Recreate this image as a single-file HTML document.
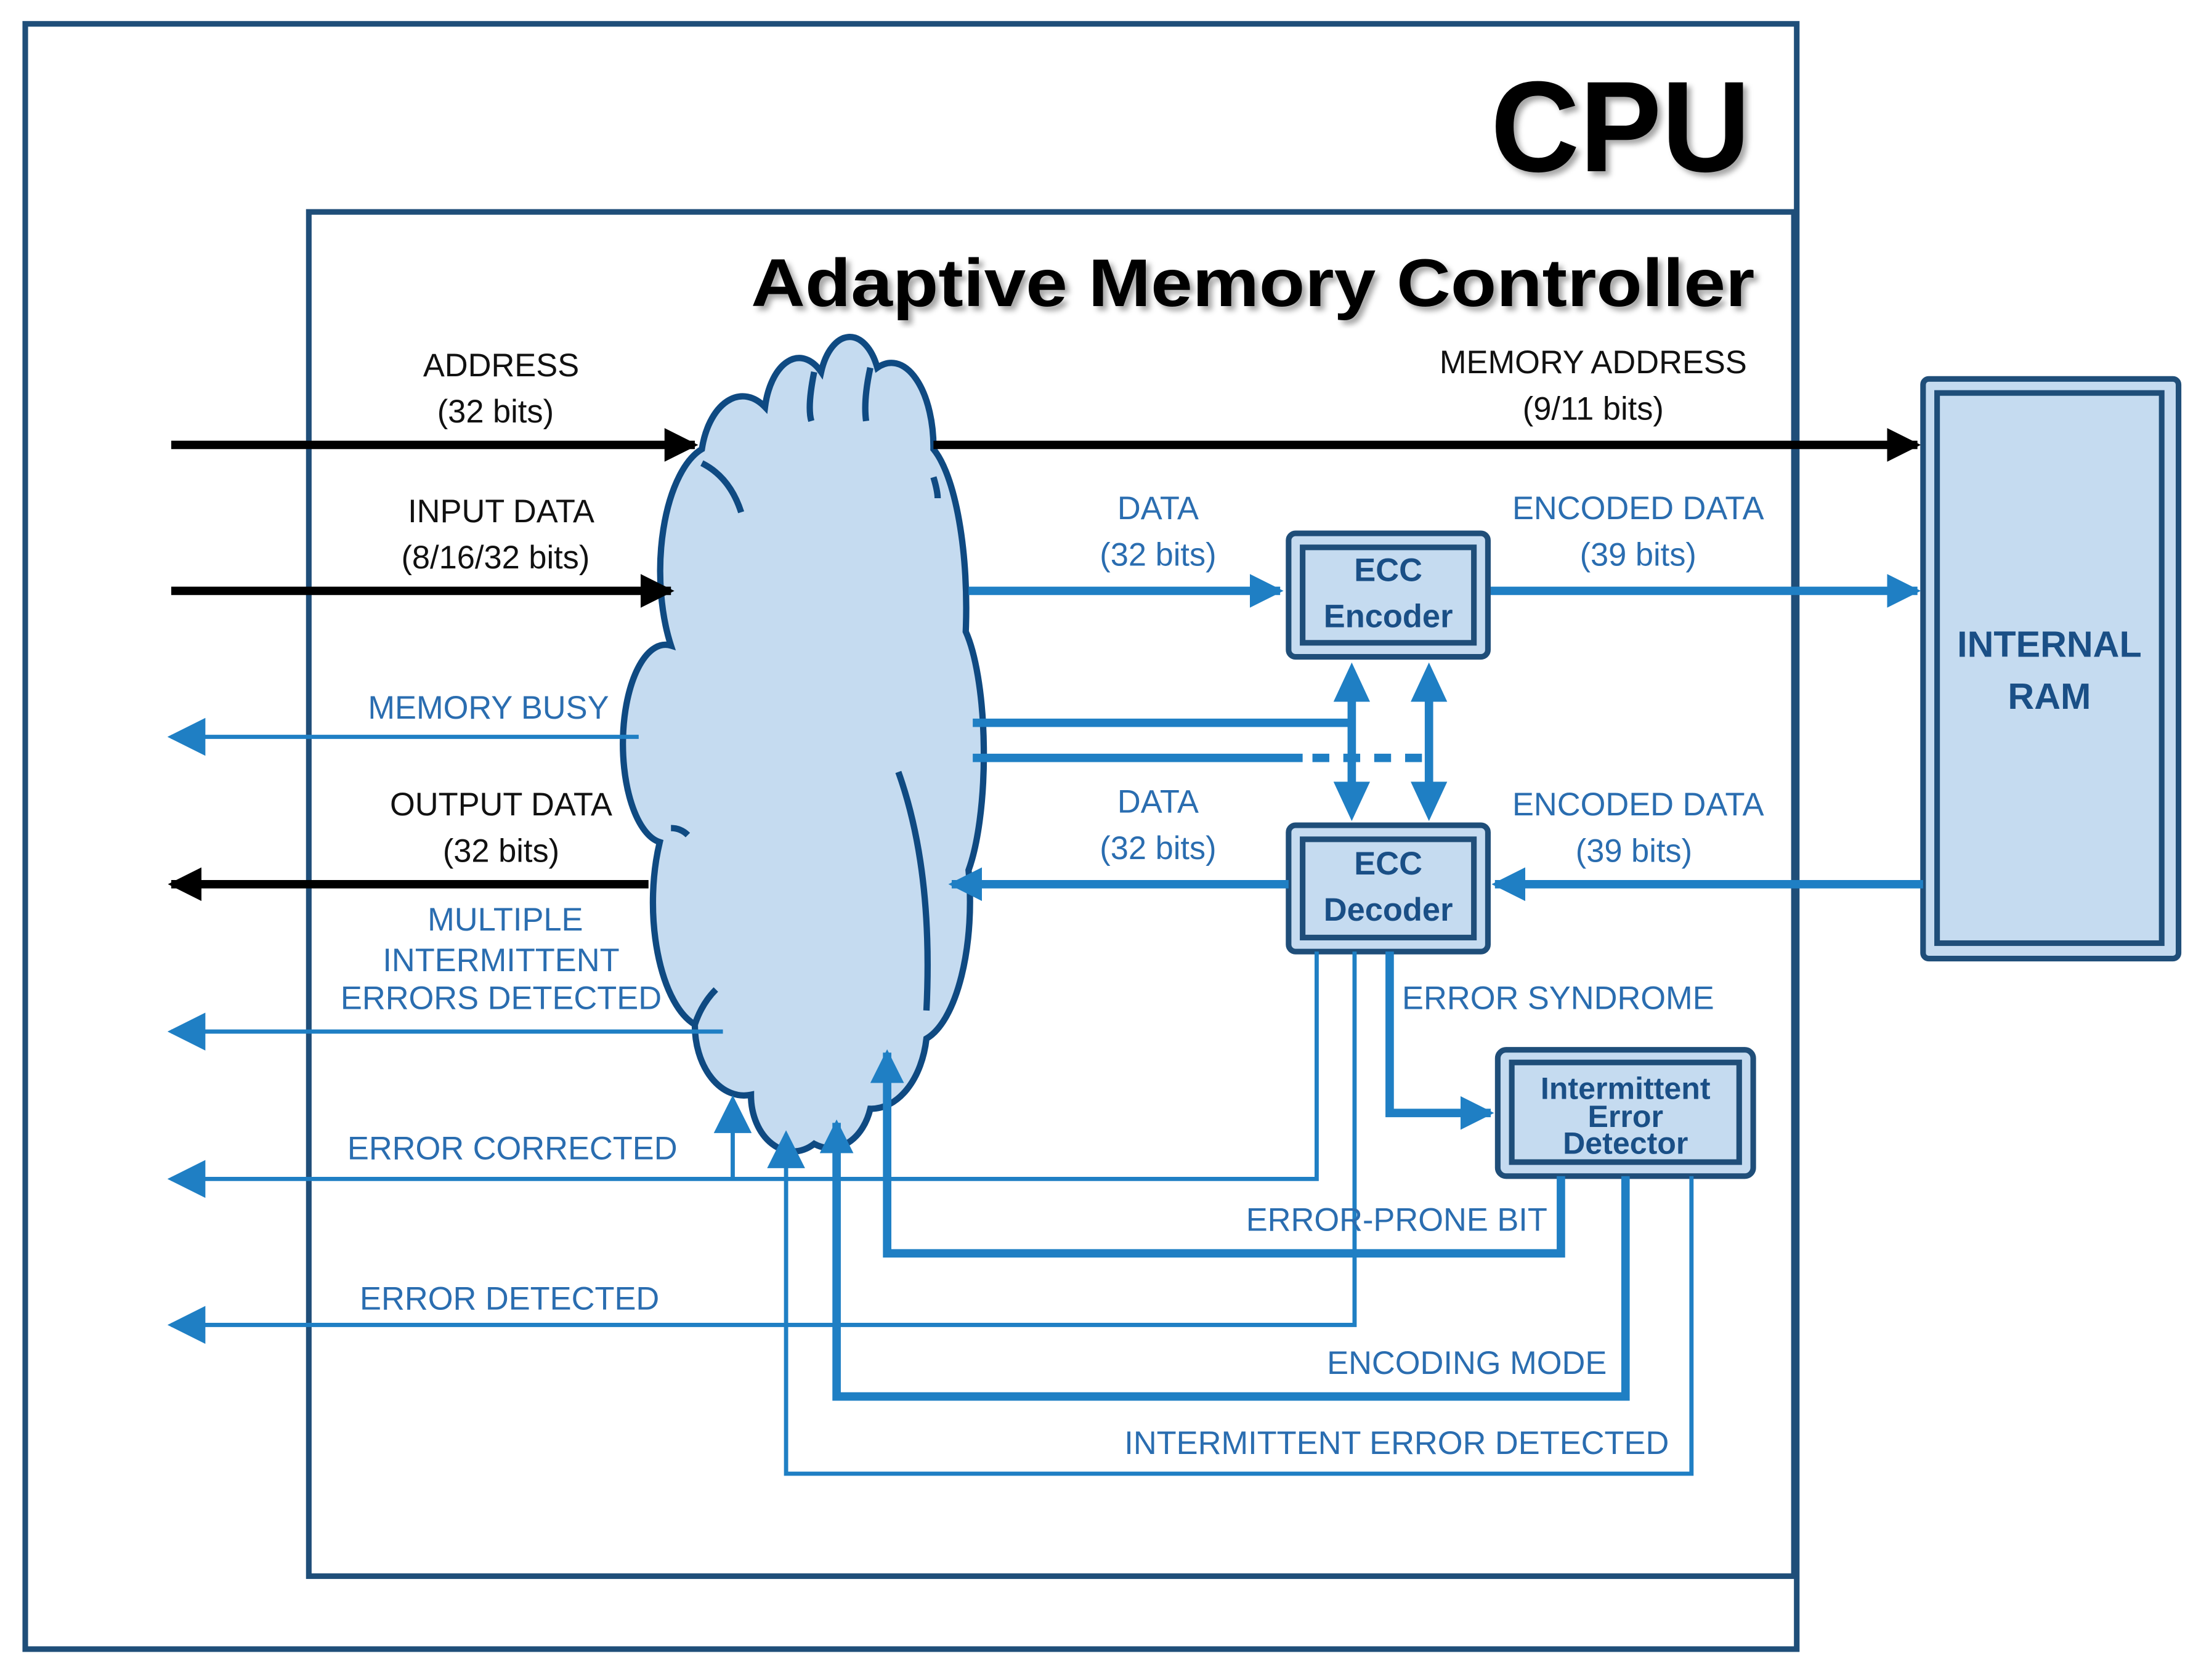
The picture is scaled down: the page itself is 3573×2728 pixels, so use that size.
<!DOCTYPE html>
<html><head><meta charset="utf-8"><style>
html,body{margin:0;padding:0;background:#fff;}
svg{display:block;}
text{font-family:"Liberation Sans",sans-serif;}
.b{fill:#2a6db0;font-size:23px;text-anchor:middle;}
.k{fill:#111;font-size:23px;text-anchor:middle;}
.bx{fill:#1a4f86;font-weight:bold;text-anchor:middle;}
</style></head><body>
<svg width="3573" height="2728" viewBox="0 0 1568 1197" preserveAspectRatio="none" xmlns="http://www.w3.org/2000/svg">
<defs>
<marker id="ak" viewBox="0 0 10 10" refX="9" refY="5" markerWidth="4" markerHeight="4" orient="auto" markerUnits="strokeWidth"><path d="M0,0L10,5L0,10z" fill="#000"/></marker>
<marker id="ab" viewBox="0 0 10 10" refX="9" refY="5" markerWidth="4" markerHeight="4" orient="auto" markerUnits="strokeWidth"><path d="M0,0L10,5L0,10z" fill="#1f7fc4"/></marker>
<marker id="at" viewBox="0 0 10 10" refX="9" refY="5" markerWidth="9" markerHeight="9" orient="auto" markerUnits="strokeWidth"><path d="M0,0L10,5L0,10z" fill="#1f7fc4"/></marker>
<filter id="sh"><feDropShadow dx="3" dy="3" stdDeviation="2" flood-color="#000" flood-opacity="0.35"/></filter>
</defs>
<rect x="18" y="17" width="1262" height="1158" fill="none" stroke="#1f4e79" stroke-width="4"/>
<text x="1062" y="122" font-size="92" font-weight="bold" fill="#000" filter="url(#sh)" textLength="185" lengthAdjust="spacingAndGlyphs">CPU</text>
<rect x="220" y="151" width="1058" height="972" fill="none" stroke="#1f4e79" stroke-width="4"/>
<text x="535" y="218" font-size="48" font-weight="bold" fill="#000" filter="url(#sh)" textLength="715" lengthAdjust="spacingAndGlyphs">Adaptive Memory Controller</text>

<rect x="1370" y="270" width="182" height="413" rx="4" fill="#c5dbf0" stroke="#1f4e79" stroke-width="4"/>
<rect x="1380" y="280" width="160" height="392" fill="#c5dbf0" stroke="#1f4e79" stroke-width="4"/>
<text x="1460" y="468" font-size="26" class="bx">INTERNAL</text>
<text x="1460" y="505" font-size="26" class="bx">RAM</text>

<path d="M478,460 A40,90 0 0 1 500,320 A30,50 0 0 1 545,290 A25,45 0 0 1 585,265 A22,40 0 0 1 625,262 A30,60 0 0 1 665,320 A35,120 0 0 1 688,450 A25,100 0 0 1 690,620 A40,100 0 0 1 660,740 A40,60 0 0 1 620,790 A30,40 0 0 1 580,815 A30,40 0 0 1 535,780 A35,50 0 0 1 495,730 A40,90 0 0 1 470,600 A30,70 0 0 1 478,460Z" fill="#c5dbf0" stroke="#0f4a82" stroke-width="4.5"/>
<path d="M580,265 Q575,290 578,300 M620,262 Q615,285 617,300 M500,330 Q520,340 528,365 M665,340 Q668,350 668,355 M478,590 Q485,590 490,595 M640,550 Q665,620 660,720 M495,730 Q500,715 510,705" fill="none" stroke="#0f4a82" stroke-width="4.5"/>

<rect x="918" y="380" width="142" height="88" rx="5" fill="#c5dbf0" stroke="#1f4e79" stroke-width="4"/>
<rect x="928" y="390" width="122" height="68" fill="#c5dbf0" stroke="#1f4e79" stroke-width="4"/>
<text x="989" y="414" font-size="23" class="bx">ECC</text>
<text x="989" y="447" font-size="23" class="bx">Encoder</text>
<rect x="918" y="588" width="142" height="90" rx="5" fill="#c5dbf0" stroke="#1f4e79" stroke-width="4"/>
<rect x="928" y="598" width="122" height="70" fill="#c5dbf0" stroke="#1f4e79" stroke-width="4"/>
<text x="989" y="623" font-size="23" class="bx">ECC</text>
<text x="989" y="656" font-size="23" class="bx">Decoder</text>
<rect x="1067" y="748" width="182" height="90" rx="6" fill="#c5dbf0" stroke="#1f4e79" stroke-width="4"/>
<rect x="1077" y="757" width="162" height="71" fill="#c5dbf0" stroke="#1f4e79" stroke-width="4"/>
<text x="1158" y="783" font-size="22" class="bx">Intermittent</text>
<text x="1158" y="803" font-size="22" class="bx">Error</text>
<text x="1158" y="822" font-size="22" class="bx">Detector</text>

<line x1="122" y1="317" x2="495" y2="317" stroke="#000" stroke-width="6" marker-end="url(#ak)"/>
<line x1="122" y1="421" x2="478" y2="421" stroke="#000" stroke-width="6" marker-end="url(#ak)"/>
<line x1="665" y1="317" x2="1366" y2="317" stroke="#000" stroke-width="6" marker-end="url(#ak)"/>
<line x1="462" y1="630" x2="122" y2="630" stroke="#000" stroke-width="6" marker-end="url(#ak)"/>
<g stroke="#1f7fc4" fill="none">
<line x1="690" y1="421" x2="912" y2="421" stroke-width="6" marker-end="url(#ab)"/>
<line x1="1062" y1="421" x2="1366" y2="421" stroke-width="6" marker-end="url(#ab)"/>
<line x1="918" y1="630" x2="678" y2="630" stroke-width="6" marker-end="url(#ab)"/>
<line x1="1370" y1="630" x2="1065" y2="630" stroke-width="6" marker-end="url(#ab)"/>
<line x1="693" y1="515" x2="963" y2="515" stroke-width="6"/>
<line x1="693" y1="540" x2="928" y2="540" stroke-width="6"/>
<line x1="935" y1="540" x2="1018" y2="540" stroke-width="6" stroke-dasharray="12,10"/>
<line x1="963" y1="500" x2="963" y2="560" stroke-width="6"/>
<line x1="1018" y1="500" x2="1018" y2="560" stroke-width="6"/>
<path d="M963,472 L950,500 L976,500Z M963,585 L950,557 L976,557Z M1018,472 L1005,500 L1031,500Z M1018,585 L1005,557 L1031,557Z" fill="#1f7fc4" stroke="none"/>
<line x1="455" y1="525" x2="122" y2="525" stroke-width="3" marker-end="url(#at)"/>
<line x1="515" y1="735" x2="122" y2="735" stroke-width="3" marker-end="url(#at)"/>
<polyline points="938,678 938,840 122,840" stroke-width="3" marker-end="url(#at)"/>
<line x1="522" y1="840" x2="522" y2="783" stroke-width="3" marker-end="url(#at)"/>
<polyline points="965,678 965,944 122,944" stroke-width="3" marker-end="url(#at)"/>
<polyline points="1205,838 1205,1050 560,1050 560,808" stroke-width="3" marker-end="url(#at)"/>
<polyline points="990,678 990,793 1062,793" stroke-width="6" marker-end="url(#ab)"/>
<polyline points="1112,838 1112,893 632,893 632,750" stroke-width="6" marker-end="url(#ab)"/>
<polyline points="1158,838 1158,995 596,995 596,800" stroke-width="6" marker-end="url(#ab)"/>
</g>

<text x="357" y="268" class="k">ADDRESS</text>
<text x="353" y="301" class="k">(32 bits)</text>
<text x="357" y="372" class="k">INPUT DATA</text>
<text x="353" y="405" class="k">(8/16/32 bits)</text>
<text x="1135" y="266" class="k">MEMORY ADDRESS</text>
<text x="1135" y="299" class="k">(9/11 bits)</text>
<text x="357" y="581" class="k">OUTPUT DATA</text>
<text x="357" y="614" class="k">(32 bits)</text>
<text x="825" y="370" class="b">DATA</text>
<text x="825" y="403" class="b">(32 bits)</text>
<text x="1167" y="370" class="b">ENCODED DATA</text>
<text x="1167" y="403" class="b">(39 bits)</text>
<text x="825" y="579" class="b">DATA</text>
<text x="825" y="612" class="b">(32 bits)</text>
<text x="1167" y="581" class="b">ENCODED DATA</text>
<text x="1164" y="614" class="b">(39 bits)</text>
<text x="348" y="512" class="b">MEMORY BUSY</text>
<text x="360" y="663" class="b">MULTIPLE</text>
<text x="357" y="692" class="b">INTERMITTENT</text>
<text x="357" y="719" class="b">ERRORS DETECTED</text>
<text x="365" y="826" class="b">ERROR CORRECTED</text>
<text x="363" y="933" class="b">ERROR DETECTED</text>
<text x="1110" y="719" class="b">ERROR SYNDROME</text>
<text x="995" y="877" class="b">ERROR-PRONE BIT</text>
<text x="1045" y="979" class="b">ENCODING MODE</text>
<text x="995" y="1036" class="b">INTERMITTENT  ERROR DETECTED</text>
</svg>
</body></html>
